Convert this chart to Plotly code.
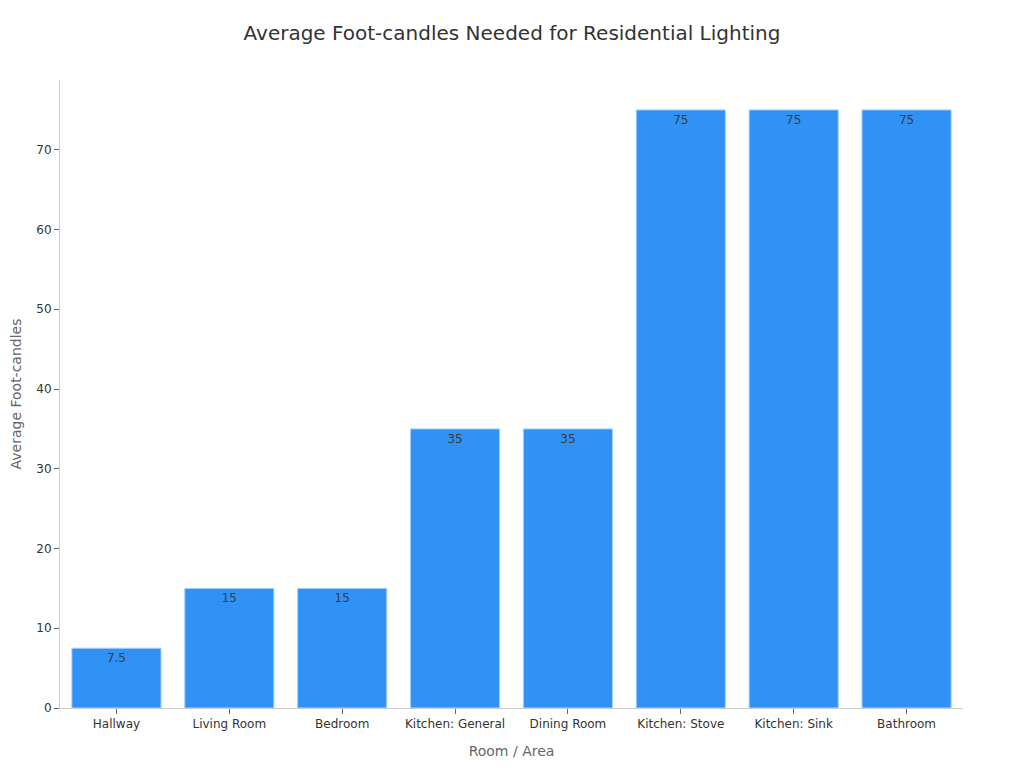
import plotly.graph_objects as go

rooms = ["Hallway", "Living Room", "Bedroom", "Kitchen: General", "Dining Room",
         "Kitchen: Stove", "Kitchen: Sink", "Bathroom"]
foot_candles = [7.5, 15, 15, 35, 35, 75, 75, 75]
y_ticks = [0, 10, 20, 30, 40, 50, 60, 70]

fig = go.Figure(go.Bar(
    x=rooms, y=foot_candles,
    text=[f"{v:g}" for v in foot_candles],
    textposition="inside", insidetextanchor="end",
    textfont=dict(color="#3a3a3a", size=12),
    marker=dict(color="#3092F5", line=dict(color="#A8D4FF", width=1)),
    cliponaxis=False,
))

fig.update_layout(
    width=1016, height=760,
    margin=dict(l=52, r=61, t=72, b=60, autoexpand=False),
    paper_bgcolor="white", plot_bgcolor="white",
    font=dict(family="DejaVu Sans", color="#333333", size=12),
    title=dict(text="Average Foot-candles Needed for Residential Lighting",
               x=504 / 1016, xanchor="center", y=1 - 25 / 760, yanchor="middle",
               font=dict(size=20, color="#333333")),
    bargap=0.21,
    showlegend=False,
    xaxis=dict(title=dict(text="Room / Area", font=dict(size=14, color="#666666"), standoff=15),
               automargin=False,
               showline=True, linecolor="#cccccc", linewidth=1,
               ticks="outside", tickcolor="#666666", ticklen=5,
               tickfont=dict(size=12, color="#333333"), showgrid=False),
    yaxis=dict(title=dict(text="Average Foot-candles", font=dict(size=14, color="#666666"), standoff=19),
               automargin=False,
               range=[0, 78.75], tickvals=y_ticks,
               showline=True, linecolor="#cccccc", linewidth=1,
               ticks="outside", tickcolor="#666666", ticklen=5,
               tickfont=dict(size=12, color="#333333"), showgrid=False, zeroline=False),
)

fig.write_html("out.html")
